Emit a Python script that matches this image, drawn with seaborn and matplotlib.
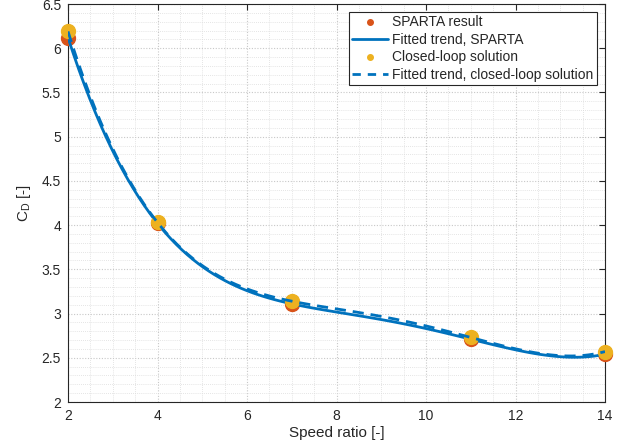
import numpy as np
import pandas as pd
import matplotlib
matplotlib.use("Agg")
import matplotlib.pyplot as plt
import seaborn as sns
from matplotlib.lines import Line2D
from matplotlib.ticker import MultipleLocator

speed_ratio = [2, 4, 7, 11, 14]
cd_sparta = [6.12, 4.02, 3.11, 2.71, 2.54]
cd_closed = [6.19, 4.03, 3.14, 2.73, 2.57]

x_ticks = [2, 4, 6, 8, 10, 12, 14]
y_ticks = [2, 2.5, 3, 3.5, 4, 4.5, 5, 5.5, 6, 6.5]

sns.set_theme(style="white")
plt.rcParams['font.family'] = ['Liberation Sans', 'DejaVu Sans']
plt.rcParams['mathtext.fontset'] = 'custom'
plt.rcParams['mathtext.rm'] = 'Liberation Sans'
plt.rcParams['mathtext.it'] = 'Liberation Sans'

c_orange = '#D95319'
c_yellow = '#EDB120'
c_blue = '#0072BD'

df = pd.DataFrame({"sr": speed_ratio, "sparta": cd_sparta, "closed": cd_closed})

fig = plt.figure(figsize=(6.19, 4.42), dpi=100)
ax = fig.add_axes([68/619, 1 - 402/442, (605-68)/619, (402-4)/442])

ax.plot(df["sr"], df["sparta"], 'o', color=c_orange, markersize=10, zorder=3, clip_on=False)
sns.regplot(data=df, x="sr", y="sparta", order=4, ci=None, scatter=False, ax=ax,
            line_kws=dict(color=c_blue, linewidth=2, zorder=4))
ax.plot(df["sr"], df["closed"], 'o', color=c_yellow, markersize=10, zorder=5, clip_on=False)
sns.regplot(data=df, x="sr", y="closed", order=4, ci=None, scatter=False, ax=ax,
            line_kws=dict(color=c_blue, linewidth=2, linestyle=(0, (4, 2.5)), zorder=6))

ax.set_xlim(2, 14)
ax.set_ylim(2, 6.5)
ax.set_xticks(x_ticks)
ax.set_xticklabels([str(t) for t in x_ticks])
ax.set_yticks(y_ticks)
ax.set_yticklabels([f"{t:g}" for t in y_ticks])
ax.xaxis.set_minor_locator(MultipleLocator(0.5))
ax.yaxis.set_minor_locator(MultipleLocator(0.1))
ax.grid(True, which='major', color='#c8c8c8', linestyle=(0, (1, 1.5)), linewidth=0.8)
ax.grid(True, which='minor', color='#dcdcdc', linestyle=(0, (1, 1.5)), linewidth=0.6)
ax.set_axisbelow(True)
for s in ax.spines.values():
    s.set_color('#262626')
    s.set_linewidth(0.8)
ax.tick_params(which='major', direction='in', length=4, width=0.8, color='#262626',
               top=True, right=True, labelsize=10, labelcolor='#262626', pad=5)
ax.tick_params(which='minor', length=0)

ax.set_xlabel("Speed ratio [-]", fontsize=11, color='#262626', labelpad=2)
ax.set_ylabel(r"C$_\mathregular{D}$ [-]", fontsize=11, color='#262626', labelpad=6)

handles = [
    Line2D([], [], marker='o', linestyle='none', color=c_orange, markersize=4),
    Line2D([], [], color=c_blue, linewidth=2),
    Line2D([], [], marker='o', linestyle='none', color=c_yellow, markersize=4),
    Line2D([], [], color=c_blue, linewidth=2, linestyle=(0, (3, 2.5))),
]
labels = ["SPARTA result", "Fitted trend, SPARTA", "Closed-loop solution",
          "Fitted trend, closed-loop solution"]
leg = ax.legend(handles, labels, loc='upper right',
                bbox_to_anchor=(597/619, 1 - 12/442), bbox_transform=fig.transFigure,
                fontsize=10, frameon=True, fancybox=False, framealpha=1,
                edgecolor='#262626', handlelength=2.6, handletextpad=0.3,
                borderpad=0.25, labelspacing=0.25, borderaxespad=0)
leg.get_frame().set_linewidth(0.8)

fig.savefig("out.png", dpi=100)
